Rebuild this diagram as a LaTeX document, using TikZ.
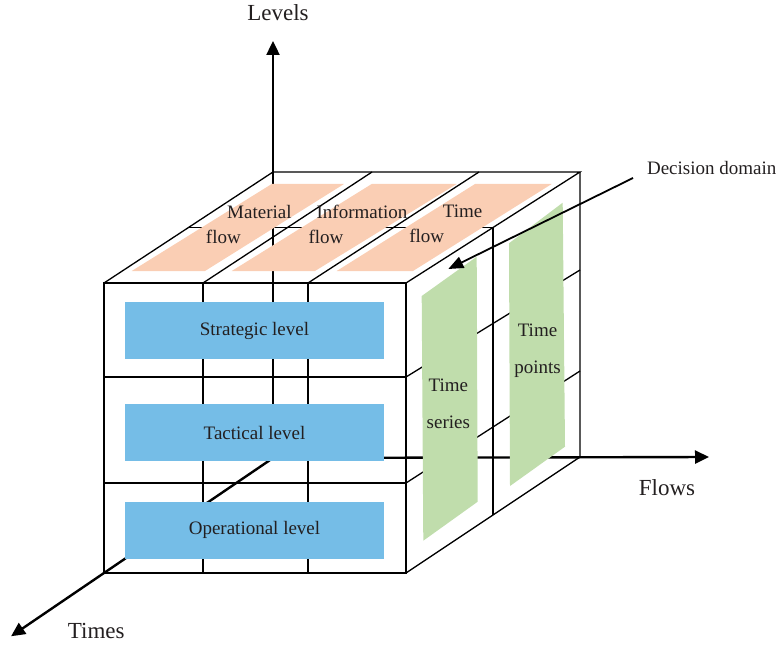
\documentclass[tikz,border=0pt]{standalone}
\usepackage{fontspec}
\setmainfont{Liberation Serif}
\usetikzlibrary{arrows.meta,calc}
\definecolor{lvlblue}{RGB}{117,189,231}
\definecolor{flowpeach}{RGB}{250,206,180}
\definecolor{timegreen}{RGB}{192,221,172}
\definecolor{inkgray}{RGB}{35,31,32}
\newcommand{\flowlabel}[1]{\hspace*{36pt}#1\\flow\hspace*{36pt}}

\begin{document}
\begin{tikzpicture}[x=1pt, y=-1pt,
  font=\fontsize{19}{25}\selectfont, text=inkgray,
  edge/.style={draw=black, line width=1.3pt},
  axis/.style={line width=2.4pt, -{Triangle[length=14pt,width=13pt]}},
  pointer/.style={line width=1.8pt, -{Triangle[length=15pt,width=12pt]}},
  lvl/.style={fill=lvlblue, minimum width=259pt, minimum height=56.5pt, inner sep=0pt},
  axlabel/.style={font=\fontsize{23}{28}\selectfont},
  flowtxt/.style={align=center, font=\fontsize{19}{25}\selectfont},
  timetxt/.style={align=center, font=\fontsize{19}{36.7}\selectfont}]

\useasboundingbox (0,0) rectangle (779,647);

% cube corners, o is the hidden back corner
\coordinate (ftl) at (104,283);
\coordinate (ftr) at (406,283);
\coordinate (fbr) at (406,573);
\coordinate (fbl) at (104,573);
\coordinate (btl) at (273,172);
\coordinate (btr) at (580,172);
\coordinate (bbr) at (580,457);
\coordinate (o) at (273,458);

% axes through the cube
\coordinate (levtip) at (273,41);
\coordinate (flowtip) at (709,457);
\coordinate (timetip) at ($(o)!1.55!(fbl)$);
\draw[axis] (o) -- (levtip);
\draw[axis] (o) -- (flowtip);
\draw[axis] (o) -- (timetip);

% front face
\draw[edge] (ftl) rectangle (fbr);
\foreach \x in {203,308} \draw[edge] (\x,283) -- (\x,573);
\foreach \y in {377,483} \draw[edge] (104,\y) -- (406,\y);

% top face
\draw[edge] (ftl) -- (btl) -- (btr) -- (ftr);
\draw[edge] (203,283) -- (372,172);
\draw[edge] (308,283) -- (479,172);
\draw[edge] ($(ftl)!.5!(btl)$) -- ($(ftr)!.5!(btr)$);

% right face
\draw[edge] (btr) -- (bbr) -- (fbr);
\draw[edge] (406,377) -- (580,270);
\draw[edge] (406,483) -- (580,371);
\draw[edge] ($(ftr)!.5!(btr)$) -- ($(fbr)!.5!(bbr)$);

% flows on top
\fill[flowpeach] (131.7,271) -- (205,271) -- (344,184) -- (271.7,184) -- cycle;
\fill[flowpeach] (231.7,271) -- (315,271) -- (456.7,184) -- (371.7,184) -- cycle;
\fill[flowpeach] (336.7,271) -- (413,271) -- (551.7,184) -- (475,184) -- cycle;
\node[flowtxt] (matflow) at (241.4,224.3) {\flowlabel{Material}};
\node[flowtxt] (infflow) at (344,224.3) {\flowlabel{Information}};
\node[flowtxt] (timeflow) at (444.7,224.3) {\flowlabel{Time}};

% levels in front
\node[lvl] (strat) at (254.5,330.7) {Strategic level};
\node[lvl] (tact) at (254.5,432.5) {Tactical level};
\node[lvl] (oper) at (254.5,530.3) {Operational level};

% time on the side
\fill[timegreen] (421.7,296) -- (476.7,256.7) -- (477.7,501.7) -- (423.3,540.7) -- cycle;
\fill[timegreen] (509,243.3) -- (562.7,202.7) -- (565,446.7) -- (510,486) -- cycle;
\node[timetxt] (tseries) at (448.3,403.5) {Time\\series};
\node[timetxt] (tpoints) at (537.5,350.5) {Time\\points};

% axis names
\node[axlabel] (levlbl) at (278,12.2) {Levels};
\node[axlabel] (flowlbl) at (667,488) {Flows};
\node[axlabel] (timelbl) at (96.3,631.4) {Times};

% decision domain pointer
\node (domlbl) at (711.7,167.8) {Decision domain};
\coordinate (domfrom) at (633,178);
\coordinate (domto) at (448.3,269);
\draw[pointer] (domfrom) -- (domto);
\end{tikzpicture}
\end{document}
